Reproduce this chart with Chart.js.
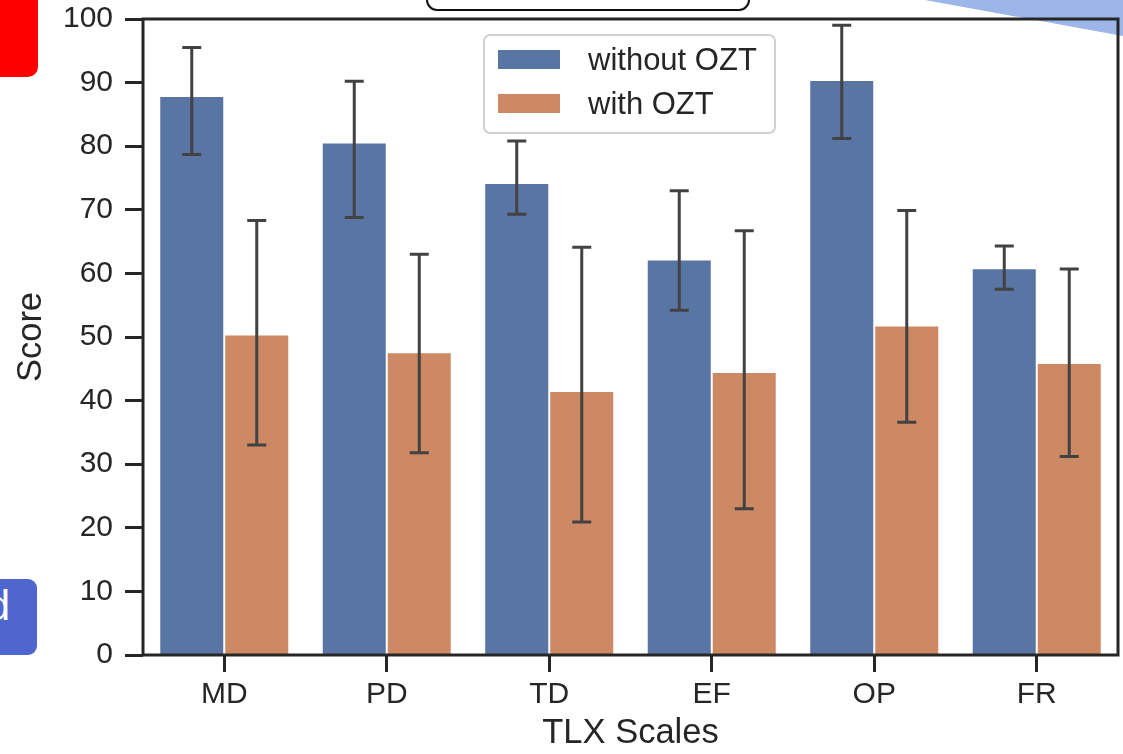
<!DOCTYPE html>
<html>
<head>
<meta charset="utf-8">
<script src="https://cdn.jsdelivr.net/npm/chart.js@4/dist/chart.umd.min.js"></script>
<style>
  html, body { margin: 0; padding: 0; background: #ffffff; overflow: hidden; }
  #wrap { position: absolute; left: 0; top: 0; width: 1123px; height: 754px; }
  #c { position: absolute; left: 0; top: 0; z-index: 2; }
  .ov { position: absolute; z-index: 1; }
</style>
</head>
<body>
<div id="wrap">
  <div class="ov" style="left:-12px;top:-12px;width:50px;height:89px;background:#ff0000;border-radius:10px;"></div>
  <div class="ov" style="left:-12px;top:579px;width:49px;height:76px;background:#4f66cf;border-radius:9px;overflow:hidden;">
    <span style="position:absolute;right:27px;top:6px;font-family:'Liberation Sans',Arial,sans-serif;font-size:42px;color:#ffffff;line-height:1;">d</span>
  </div>
  <div class="ov" style="left:426px;top:-32px;width:320px;height:39px;border:2.5px solid #111111;border-radius:11px;background:#ffffff;"></div>
  <svg class="ov" style="left:0;top:0;" width="1123" height="754">
    <polygon points="925,0 1123,0 1123,36" fill="#9db6e9"/>
  </svg>
  <canvas id="c" width="1123" height="754"></canvas>
</div>
<script>
const categories = ['MD', 'PD', 'TD', 'EF', 'OP', 'FR'];
const seriesNames = ['without OZT', 'with OZT'];
const withoutOZT = [87.9, 80.6, 74.2, 62.2, 90.4, 60.8];
const withoutOZTLow = [78.7, 68.8, 69.3, 54.2, 81.2, 57.5];
const withoutOZTHigh = [95.5, 90.2, 80.8, 73.0, 99.0, 64.3];
const withOZT = [50.4, 47.6, 41.5, 44.5, 51.8, 45.9];
const withOZTLow = [33.0, 31.8, 20.9, 23.0, 36.6, 31.2];
const withOZTHigh = [68.3, 63.0, 64.1, 66.7, 69.9, 60.7];
const yTicks = [0, 10, 20, 30, 40, 50, 60, 70, 80, 90, 100];

const FONT = "'Liberation Sans', Arial, sans-serif";
const TXT = '#262626';
const BLUE = '#5875a4';
const ORANGE = '#cc8963';

const errorLows = [withoutOZTLow, withOZTLow];
const errorHighs = [withoutOZTHigh, withOZTHigh];

const errorBarPlugin = {
  id: 'errorBars',
  afterDatasetsDraw(chart) {
    const ctx = chart.ctx;
    const yScale = chart.scales.y;
    ctx.save();
    ctx.strokeStyle = '#424242';
    ctx.lineWidth = 3;
    ctx.lineCap = 'butt';
    chart.data.datasets.forEach((ds, i) => {
      const meta = chart.getDatasetMeta(i);
      meta.data.forEach((bar, j) => {
        const x = bar.x;
        const yLo = yScale.getPixelForValue(errorLows[i][j]);
        const yHi = yScale.getPixelForValue(errorHighs[i][j]);
        const cap = 9.5;
        ctx.beginPath();
        ctx.moveTo(x, yLo); ctx.lineTo(x, yHi);
        ctx.moveTo(x - cap, yLo); ctx.lineTo(x + cap, yLo);
        ctx.moveTo(x - cap, yHi); ctx.lineTo(x + cap, yHi);
        ctx.stroke();
      });
    });
    ctx.restore();
  }
};

const framePlugin = {
  id: 'frame',
  afterDraw(chart) {
    const {left, top, right, bottom} = chart.chartArea;
    const ctx = chart.ctx;
    ctx.save();
    ctx.strokeStyle = TXT;
    ctx.lineWidth = 3;
    ctx.strokeRect(left, top, right - left, bottom - top);
    ctx.restore();
  }
};

const legendPlugin = {
  id: 'boxLegend',
  afterDraw(chart) {
    const ctx = chart.ctx;
    ctx.save();
    const x0 = 484, y0 = 35, w = 291, h = 98, r = 6;
    ctx.beginPath();
    ctx.roundRect(x0, y0, w, h, r);
    ctx.fillStyle = 'rgba(255,255,255,0.85)';
    ctx.fill();
    ctx.strokeStyle = '#d0d0d0';
    ctx.lineWidth = 2;
    ctx.stroke();
    const rows = [60, 104];
    chart.data.datasets.forEach((ds, i) => {
      ctx.fillStyle = ds.backgroundColor;
      ctx.fillRect(498, rows[i] - 10, 62, 19);
      ctx.fillStyle = TXT;
      ctx.font = '31px ' + FONT;
      ctx.textBaseline = 'middle';
      ctx.textAlign = 'left';
      ctx.fillText(ds.label, 588, rows[i] + 1);
    });
    ctx.restore();
  }
};

new Chart(document.getElementById('c'), {
  type: 'bar',
  data: {
    labels: categories,
    datasets: [
      { label: seriesNames[0], data: withoutOZT, backgroundColor: BLUE, borderColor: 'rgba(255,255,255,0.7)', borderWidth: 1 },
      { label: seriesNames[1], data: withOZT, backgroundColor: ORANGE, borderColor: 'rgba(255,255,255,0.7)', borderWidth: 1 }
    ]
  },
  options: {
    responsive: false,
    animation: false,
    devicePixelRatio: 1,
    layout: { padding: { top: 19, right: 5, left: 0, bottom: 0 } },
    plugins: { legend: { display: false }, tooltip: { enabled: false } },
    datasets: { bar: { barPercentage: 1, categoryPercentage: 0.8 } },
    scales: {
      x: {
        offset: true,
        grid: { offset: false, drawOnChartArea: false, drawTicks: true, tickLength: 17, tickWidth: 3, tickColor: TXT },
        border: { display: false },
        ticks: { color: TXT, font: { family: FONT, size: 30 }, padding: 5 },
        title: { display: true, text: 'TLX Scales', color: TXT, font: { family: FONT, size: 34.5 }, padding: { top: 0, bottom: 0 } },
        afterFit(s) { s.height = 99; s.paddingLeft = 0; s.paddingRight = 0; }
      },
      y: {
        min: 0,
        max: 100,
        afterBuildTicks(s) { s.ticks = yTicks.map(v => ({ value: v })); },
        grid: { drawOnChartArea: false, drawTicks: true, tickLength: 18, tickWidth: 3, tickColor: TXT },
        border: { display: false },
        ticks: { color: TXT, font: { family: FONT, size: 30 }, padding: 12 },
        title: { display: true, text: 'Score', color: TXT, font: { family: FONT, size: 34.5 }, padding: { top: 11, bottom: 0 } },
        afterFit(s) { s.width = 143; s.paddingTop = 0; s.paddingBottom = 0; }
      }
    }
  },
  plugins: [errorBarPlugin, framePlugin, legendPlugin]
});
</script>
</body>
</html>
